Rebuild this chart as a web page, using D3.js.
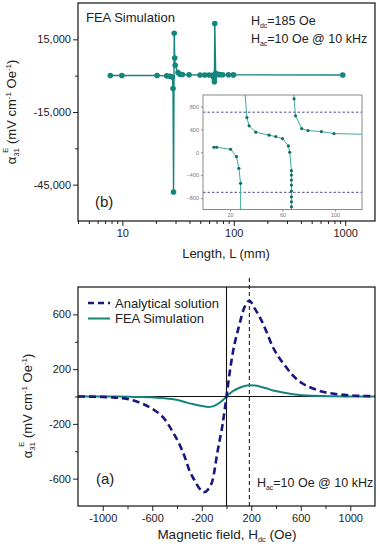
<!DOCTYPE html>
<html>
<head>
<meta charset="utf-8">
<script src="https://cdn.jsdelivr.net/npm/d3@7"></script>
<style>
  body { margin: 0; background: #fff; }
  svg { display: block; }
  text { font-family: "Liberation Sans", Arial, sans-serif; }
</style>
</head>
<body>
<script>
// panel (b): FEA alpha_31 vs length L (mm)
const lengthL = [7.8, 9.9, 20.5, 25, 26.8, 28.1, 28.5, 28.8, 29.2, 29.5, 29.8, 31.6, 32.9, 34.6, 39.7, 49.8, 54.9, 60, 64.5, 65.5,
  66.8, 66.8, 66.8, 66.8, 66.8, 66.8, 66.8, 66.8, 67, 67.5, 68.8, 69.9, 74.6, 79.4, 89.6, 99.2, 950];
const alphaL = [87, 87, 52, -77, -280, -543, -5300, -48000, 17500, 7300, 4300, 1300, 606, 461, 350, 298, 273, 238, 110, 0,
  -322, -398, -485, -573, -678, -778, -865, -953, -2500, 21500, 934, 636, 413, 378, 361, 326, 300];

// inset: the same curve zoomed in, three branches
const insetBranch1 = [[7.8, 87], [9.9, 87], [20.5, 52], [25, -77], [26.8, -280], [28.1, -543], [28.2, -1300]];
const insetBranch2 = [[31.4, 1200], [31.6, 1000], [32.9, 606], [34.6, 461], [39.7, 350], [49.8, 298], [54.9, 273], [60, 238],
  [64.5, 110], [65.5, 0], [66.8, -322], [66.8, -398], [66.8, -485], [66.8, -573], [66.8, -678], [66.8, -778], [66.8, -865],
  [66.8, -953], [66.9, -1300]];
const insetBranch3 = [[68.3, 1200], [68.8, 934], [69.9, 636], [74.6, 413], [79.4, 378], [89.6, 361], [99.2, 326], [125, 313]];
const insetLimits = [700, -700];
const insetYTicks = [800, 400, 0, -400, -800];
const insetXTicks = [20, 60, 100];

// panel (a): alpha_31 vs H_dc (Oe)
const fieldH = [-1200, -1000, -900, -800, -700, -600, -500, -440, -380, -330, -300, -260, -220, -185, -150, -112, -72, -31, 0,
  25, 50, 100, 140, 185, 230, 280, 320, 370, 420, 480, 540, 615, 700, 780, 870, 970, 1100, 1200];
const analytical = [0, -3, -8, -18, -45, -90, -165, -250, -350, -460, -540, -610, -670, -700, -680, -610, -400, -200, 0,
  170, 315, 510, 640, 700, 640, 560, 480, 370, 290, 217, 150, 95, 58, 34, 20, 10, 4, 2];
const feaSim = [0, 0, -0.5, -1, -3, -6, -12, -19, -29, -42, -50, -58, -66, -72, -76, -72, -55, -28, 0,
  20, 38, 62, 75, 82, 80, 70, 60, 46, 36, 25, 16, 9, 5, 3, 1.5, 0.5, 0, 0];
const biasField = 185;

const yTicksB = [15000, -15000, -45000];
const yMinorB = [0, -30000];
const xTicksA = [-1000, -600, -200, 200, 600, 1000];
const xMinorA = [-800, -400, 0, 400, 800];
const yTicksA = [600, 200, -200, -600];
const yMinorA = [400, 0, -400];

const teal = "#13857b";
const navy = "#17177f";

const svg = d3.select("body").append("svg").attr("width", 380).attr("height", 550);

const loc = d3.formatLocale({ decimal: ".", thousands: ",", grouping: [3], currency: ["", ""], minus: "-" });

function styleAxis(g) {
  g.select(".domain").remove();
  g.attr("font-family", null).attr("font-size", 11);
  g.selectAll("text").attr("fill", "#222");
  g.selectAll("line").attr("stroke", "#222");
}

function yTitle(x, y) {
  const t = svg.append("text").attr("transform", `translate(${x},${y}) rotate(-90)`)
    .attr("text-anchor", "middle").attr("font-size", 13).attr("fill", "#222");
  t.append("tspan").text("α");
  t.append("tspan").attr("font-size", 8).attr("dy", 3).text("31");
  t.append("tspan").attr("font-size", 8).attr("dx", -5).attr("dy", -11).text("E");
  t.append("tspan").attr("dy", 8).text(" (mV cm");
  t.append("tspan").attr("font-size", 8).attr("dy", -5).text("-1");
  t.append("tspan").attr("dy", 5).text(" Oe");
  t.append("tspan").attr("font-size", 8).attr("dy", -5).text("-1");
  t.append("tspan").attr("dy", 5).text(")");
}

function subText(x, y, parts, size) {
  const t = svg.append("text").attr("x", x).attr("y", y).attr("font-size", size).attr("fill", "#222");
  parts.forEach(p => {
    if (p.sub) t.append("tspan").attr("font-size", size * 0.55).attr("dy", 3).text(p.sub);
    else t.append("tspan").attr("dy", p.back ? -3 : 0).text(p.t);
  });
  return t;
}

// ---------- panel (b) ----------
const xB = d3.scaleLog().domain([4, 1850]).range([78, 375]);
const yB = d3.scaleLinear().domain([-60000, 30000]).range([221, 3]);

const logMajor = [10, 100, 1000];
const logMinor = xB.ticks().filter(d => !logMajor.includes(d));

svg.append("g").attr("transform", "translate(0,221)")
  .call(d3.axisBottom(xB).tickValues(logMajor).tickFormat(d3.format("d")).tickSize(5).tickPadding(3)).call(styleAxis);
svg.append("g").attr("transform", "translate(0,221)")
  .call(d3.axisBottom(xB).tickValues(logMinor).tickFormat("").tickSize(3)).call(styleAxis);
svg.append("g").attr("transform", "translate(78,0)")
  .call(d3.axisLeft(yB).tickValues(yTicksB).tickFormat(loc.format(",")).tickSize(5).tickPadding(2)).call(styleAxis);
svg.append("g").attr("transform", "translate(78,0)")
  .call(d3.axisLeft(yB).tickValues(yMinorB).tickFormat("").tickSize(3)).call(styleAxis);

svg.append("rect").attr("x", 78).attr("y", 3).attr("width", 297).attr("height", 218)
  .attr("fill", "none").attr("stroke", "#111").attr("stroke-width", 1.2);

const lengthData = lengthL.map((d, i) => [d, alphaL[i]]);
svg.append("path").datum(lengthData)
  .attr("d", d3.line().x(d => xB(d[0])).y(d => yB(d[1])))
  .attr("fill", "none").attr("stroke", teal).attr("stroke-width", 1.4);
svg.append("g").selectAll("circle").data(lengthData).join("circle")
  .attr("cx", d => xB(d[0])).attr("cy", d => yB(d[1])).attr("r", 2.8).attr("fill", teal);

svg.append("text").attr("x", 86).attr("y", 21.5).attr("font-size", 13).attr("fill", "#222").text("FEA Simulation");
subText(251, 25, [{ t: "H" }, { sub: "dc" }, { t: "=185 Oe", back: true }], 12.5);
subText(251, 42.5, [{ t: "H" }, { sub: "ac" }, { t: "=10 Oe @ 10 kHz", back: true }], 12.5);
svg.append("text").attr("x", 95).attr("y", 207).attr("font-size", 15).attr("fill", "#222").text("(b)");

svg.append("text").attr("x", 226).attr("y", 258).attr("text-anchor", "middle").attr("font-size", 13)
  .attr("fill", "#222").text("Length, L (mm)");
yTitle(16, 112);

// ---------- inset ----------
const xI = d3.scaleLinear().domain([-0.5, 120.5]).range([203, 362]);
const yI = d3.scaleLinear().domain([-1000, 1000]).range([209.5, 95]);

svg.append("rect").attr("x", 203).attr("y", 95).attr("width", 159).attr("height", 114.5).attr("fill", "#fff");
svg.append("clipPath").attr("id", "insetClip").append("rect")
  .attr("x", 203).attr("y", 95).attr("width", 159).attr("height", 114.5);

const inset = svg.append("g").attr("clip-path", "url(#insetClip)");
inset.selectAll("line.lim").data(insetLimits).join("line").attr("class", "lim")
  .attr("x1", 203).attr("x2", 362).attr("y1", d => yI(d)).attr("y2", d => yI(d))
  .attr("stroke", "#4a4aa6").attr("stroke-width", 1).attr("stroke-dasharray", "2.5,2");
const insetLine = d3.line().x(d => xI(d[0])).y(d => yI(d[1]));
inset.selectAll("path.br").data([insetBranch1, insetBranch2, insetBranch3]).join("path").attr("class", "br")
  .attr("d", insetLine).attr("fill", "none").attr("stroke", "#3fa9a0").attr("stroke-width", 1);
const insetPts = [].concat(insetBranch1, insetBranch2, insetBranch3)
  .filter(d => Math.abs(d[1]) < 1000 && d[0] < 120);
inset.selectAll("circle").data(insetPts).join("circle")
  .attr("cx", d => xI(d[0])).attr("cy", d => yI(d[1])).attr("r", 1.6).attr("fill", "#0f6f68");

svg.append("rect").attr("x", 203).attr("y", 95).attr("width", 159).attr("height", 114.5)
  .attr("fill", "none").attr("stroke", "#8a8a8a").attr("stroke-width", 1);
const insetAxisStyle = g => {
  g.select(".domain").remove();
  g.attr("font-family", null).attr("font-size", 5.5);
  g.selectAll("text").attr("fill", "#777");
  g.selectAll("line").attr("stroke", "#888");
};
svg.append("g").attr("transform", "translate(203,0)")
  .call(d3.axisLeft(yI).tickValues(insetYTicks).tickSize(2).tickPadding(2)).call(insetAxisStyle);
svg.append("g").attr("transform", "translate(0,209.5)")
  .call(d3.axisBottom(xI).tickValues(insetXTicks).tickSize(2).tickPadding(2)).call(insetAxisStyle);

// ---------- panel (a) ----------
const xA = d3.scaleLinear().domain([-1200, 1200]).range([78, 375]);
const yA = d3.scaleLinear().domain([-800, 800]).range([506, 287]);

svg.append("g").attr("transform", "translate(0,506)")
  .call(d3.axisBottom(xA).tickValues(xTicksA).tickFormat(d => String(d)).tickSize(5).tickPadding(3)).call(styleAxis);
svg.append("g").attr("transform", "translate(0,506)")
  .call(d3.axisBottom(xA).tickValues(xMinorA).tickFormat("").tickSize(3)).call(styleAxis);
svg.append("g").attr("transform", "translate(78,0)")
  .call(d3.axisLeft(yA).tickValues(yTicksA).tickFormat(d => String(d)).tickSize(5).tickPadding(2)).call(styleAxis);
svg.append("g").attr("transform", "translate(78,0)")
  .call(d3.axisLeft(yA).tickValues(yMinorA).tickFormat("").tickSize(3)).call(styleAxis);

svg.append("line").attr("x1", 78).attr("x2", 375).attr("y1", yA(0)).attr("y2", yA(0)).attr("stroke", "#111").attr("stroke-width", 1.1);
svg.append("line").attr("x1", xA(0)).attr("x2", xA(0)).attr("y1", 287).attr("y2", 506).attr("stroke", "#111").attr("stroke-width", 1.1);
svg.append("line").attr("x1", xA(biasField)).attr("x2", xA(biasField)).attr("y1", 278).attr("y2", 506)
  .attr("stroke", "#333").attr("stroke-width", 1.2).attr("stroke-dasharray", "4,3");

const anaData = fieldH.map((h, i) => [h, analytical[i]]);
const feaData = fieldH.map((h, i) => [h, feaSim[i]]);
const lineA = d3.line().x(d => xA(d[0])).y(d => yA(d[1])).curve(d3.curveMonotoneX);
svg.append("path").datum(feaData).attr("d", lineA)
  .attr("fill", "none").attr("stroke", teal).attr("stroke-width", 2);
svg.append("path").datum(anaData).attr("d", lineA)
  .attr("fill", "none").attr("stroke", navy).attr("stroke-width", 2.6).attr("stroke-dasharray", "7,4");

svg.append("rect").attr("x", 78).attr("y", 287).attr("width", 297).attr("height", 219)
  .attr("fill", "none").attr("stroke", "#111").attr("stroke-width", 1.2);

// legend
svg.append("line").attr("x1", 88).attr("x2", 110).attr("y1", 303).attr("y2", 303)
  .attr("stroke", navy).attr("stroke-width", 2.6).attr("stroke-dasharray", "6,4");
svg.append("text").attr("x", 115).attr("y", 307.5).attr("font-size", 13).attr("fill", "#222").text("Analytical solution");
svg.append("line").attr("x1", 88).attr("x2", 110).attr("y1", 318.5).attr("y2", 318.5)
  .attr("stroke", teal).attr("stroke-width", 2);
svg.append("text").attr("x", 115).attr("y", 323).attr("font-size", 13).attr("fill", "#222").text("FEA Simulation");

svg.append("text").attr("x", 96).attr("y", 484).attr("font-size", 15).attr("fill", "#222").text("(a)");
subText(257, 487, [{ t: "H" }, { sub: "ac" }, { t: "=10 Oe @ 10 kHz", back: true }], 12.5);

const xt = svg.append("text").attr("x", 227).attr("y", 539).attr("text-anchor", "middle").attr("font-size", 13.5).attr("fill", "#222");
xt.append("tspan").text("Magnetic field, H");
xt.append("tspan").attr("font-size", 7.5).attr("dy", 3).text("dc");
xt.append("tspan").attr("dy", -3).text(" (Oe)");
yTitle(32, 406);
</script>
</body>
</html>
